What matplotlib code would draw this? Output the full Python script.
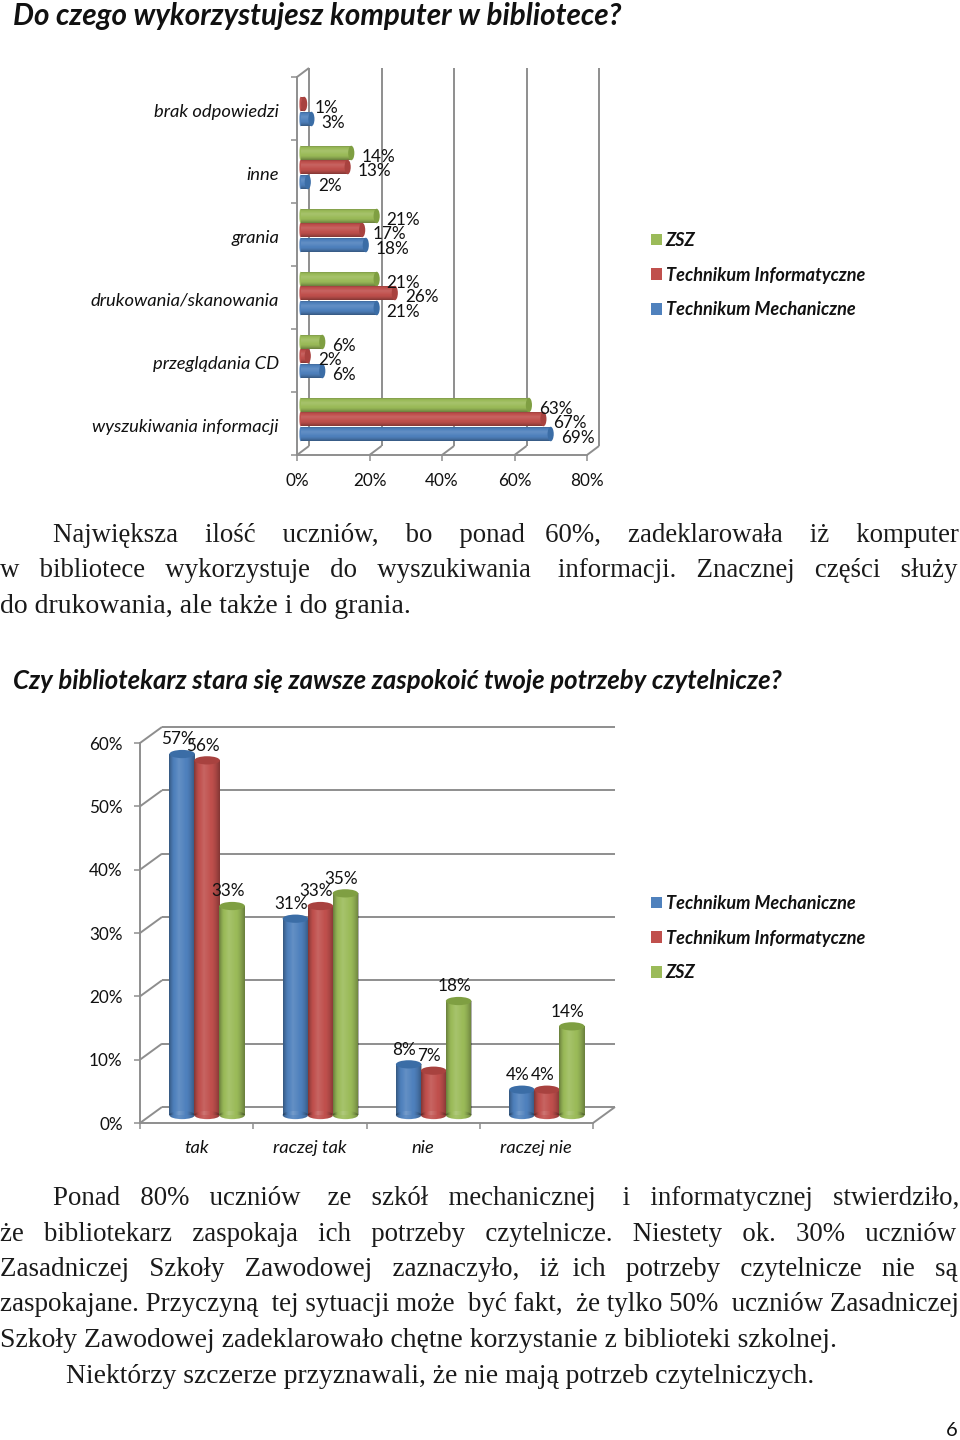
import numpy as np
import matplotlib
matplotlib.use("Agg")
import matplotlib.pyplot as plt
from matplotlib.patches import Ellipse, Patch

# ---------- data ----------
cats_h = ["brak odpowiedzi", "inne", "grania", "drukowania/skanowania",
          "przeglądania CD", "wyszukiwania informacji"]
h_mech = [3, 2, 18, 21, 6, 69]
h_inf = [1, 13, 17, 26, 2, 67]
h_zsz = [None, 14, 21, 21, 6, 63]
h_ticks = [0, 20, 40, 60, 80]

cats_v = ["tak", "raczej tak", "nie", "raczej nie"]
v_mech = [57, 31, 8, 4]
v_inf = [56, 33, 7, 4]
v_zsz = [33, 35, 18, 14]
v_ticks = [0, 10, 20, 30, 40, 50, 60]

name_mech = "Technikum Mechaniczne"
name_inf = "Technikum Informatyczne"
name_zsz = "ZSZ"

title1 = "Do czego wykorzystujesz komputer w bibliotece?"
title2 = "Czy bibliotekarz stara się zawsze zaspokoić twoje potrzeby czytelnicze?"
para_lines = [
    ("Największa ilość uczniów, bo ponad 60%, zadeklarowała iż komputer", 53, 956, 533, True),
    ("w bibliotece wykorzystuje do wyszukiwania informacji. Znacznej części służy", 0, 956, 568, True),
    ("do drukowania, ale także i do grania.", 0, 409, 604, False),
    ("Ponad 80% uczniów ze szkół mechanicznej i informatycznej stwierdziło,", 53, 956, 1196, True),
    ("że bibliotekarz zaspokaja ich potrzeby czytelnicze. Niestety ok. 30% uczniów", 0, 956, 1232, True),
    ("Zasadniczej Szkoły Zawodowej zaznaczyło, iż ich potrzeby czytelnicze nie są", 0, 956, 1267, True),
    ("zaspokajane. Przyczyną tej sytuacji może być fakt, że tylko 50% uczniów Zasadniczej", 0, 956, 1302, True),
    ("Szkoły Zawodowej zadeklarowało chętne korzystanie z biblioteki szkolnej.", 0, 834, 1338, False),
    ("Niektórzy szczerze przyznawali, że nie mają potrzeb czytelniczych.", 66, 812, 1374, False),
]

# ---------- style ----------
W, H = 960, 1440
C_BLUE, C_RED, C_GREEN = "#4f81bd", "#c0504d", "#9bbb59"
CAP = {C_BLUE: "#3b6da6", C_RED: "#a8423f", C_GREEN: "#7f9f42"}
GRID = "#8e8e8e"
SANS = "Lato"
LABEL_PT = 12.3
CAT_PT = 13.2
plt.rcParams["font.family"] = [SANS, "DejaVu Sans"]

fig = plt.figure(figsize=(W / 100, H / 100), dpi=100, facecolor="white")


def make_axes(l, t, r, b):
    return fig.add_axes([l / W, 1 - b / H, (r - l) / W, (b - t) / H])


def shade(n=48):
    s = np.linspace(0, 1, n)
    rgba = np.zeros((n, 1, 4))
    peak = 0.38
    d = np.abs(s - peak) / np.where(s < peak, peak, 1 - peak)
    dark = np.clip(d - 0.45, 0, None) / 0.55
    rgba[:, 0, 3] = np.where(d < 0.45, 0.12 * (1 - d / 0.45), 0.32 * dark ** 1.5)
    white = d < 0.45
    rgba[white, 0, :3] = 1.0
    return rgba


SH = shade()


def hbar(ax, y, v, h, left, capw, color, z):
    ax.add_patch(Ellipse((left, y), 0.6, h, fc=color, ec="none", zorder=z))
    bar = ax.barh(y, v, height=h, left=left, color=color, zorder=z)[0]
    im = ax.imshow(SH, extent=[left, left + v, y + h / 2, y - h / 2], aspect="auto", zorder=z + 0.1,
                   origin="upper")
    im.set_clip_path(bar)
    ax.add_patch(Ellipse((left + v, y), capw, h, fc=CAP[color], ec="none", zorder=z + 0.2))


def vbar(ax, x, v, w, base, caph, color, z):
    baseell = Ellipse((x, base), w, caph, fc=color, ec="none", zorder=z)
    ax.add_patch(baseell)
    bar = ax.bar(x, v, width=w, bottom=base, color=color, zorder=z)[0]
    arr = np.transpose(SH, (1, 0, 2))
    for patch in (bar, baseell):
        ext = [x - w / 2, x + w / 2, base - caph, base + v]
        im = ax.imshow(arr, extent=ext, aspect="auto", zorder=z + 0.1)
        im.set_clip_path(patch)
    ax.add_patch(Ellipse((x, base + v), w, caph, fc=CAP[color], ec="none", zorder=z + 0.2))


# ---------- chart 1 ----------
ax = make_axes(297, 77, 587, 455)
dx1, dy1 = 12 / 3.625, -9 / 63
grid_kw = dict(color=GRID, lw=1.4, zorder=1, solid_capstyle="butt", clip_on=False)
for t in h_ticks:
    ax.plot([t + dx1, t + dx1], [0 + dy1, 6 + dy1], **grid_kw)
    ax.plot([t, t + dx1], [6, 6 + dy1], **grid_kw)
ax.plot([0, dx1], [0, dy1], **grid_kw)

n = len(cats_h)
offs = {"m": 15 / 63, "i": 0.0, "z": -14 / 63}
for i in range(n):
    yc = i + 0.5 - 4.5 / 63
    for vals, key, col in ((h_mech, "m", C_BLUE), (h_inf, "i", C_RED), (h_zsz, "z", C_GREEN)):
        v = vals[i]
        if v is None:
            continue
        y = yc + offs[key]
        z = 3 + {"z": 0, "i": 1, "m": 2}[key]
        hbar(ax, y, v, 14.5 / 63, 0.97, 1.7, col, z)
        ax.annotate(f"{v}%", (0.97 + v, y), xytext=(7.2, -2.6), textcoords="offset points",
                    ha="left", va="center", fontsize=LABEL_PT, color="#111111", zorder=10)

ax.set_xlim(0, 80)
ax.set_ylim(6, 0)
ax.set_facecolor("none")
for s in ("top", "right"):
    ax.spines[s].set_visible(False)
for s in ("left", "bottom"):
    ax.spines[s].set_color(GRID)
    ax.spines[s].set_linewidth(1.4)
ax.set_xticks(h_ticks)
ax.set_xticklabels([f"{t}%" for t in h_ticks], fontsize=LABEL_PT, color="#111111")
ax.set_yticks(range(n + 1))
ax.set_yticklabels([""] * (n + 1))
ax.set_yticks(np.arange(n) + 0.53, minor=True)
ax.set_yticklabels(cats_h, minor=True, fontsize=CAT_PT, style="italic", color="#111111")
ax.tick_params(axis="both", which="major", length=4.5, width=1.1, color=GRID, pad=8.5)
ax.tick_params(axis="y", which="minor", length=0, pad=13)

# ---------- chart 2 ----------
ax2 = make_axes(140, 743, 593, 1123)
dx2, dy2 = 22 / 113.3, 16 / 6.33
for t in v_ticks:
    ax2.plot([0, dx2], [t, t + dy2], **grid_kw)
    ax2.plot([dx2, 4 + dx2], [t + dy2, t + dy2], **grid_kw)
ax2.plot([4, 4 + dx2], [0, dy2], **grid_kw)

base = 1.26
bw = 25.5 / 113.3
for i in range(len(cats_v)):
    xc = i + 0.5 + 10.5 / 113.3
    for j, (vals, col) in enumerate(((v_mech, C_BLUE), (v_inf, C_RED), (v_zsz, C_GREEN))):
        x = xc + (j - 1) * 25 / 113.3
        v = vals[i]
        vbar(ax2, x, v, bw, base, 1.3, col, 3 + j)
        ax2.annotate(f"{v}%", (x, base + v), xytext=(-3.2, 10.6), textcoords="offset points",
                     ha="center", va="center", fontsize=LABEL_PT, color="#111111", zorder=10)

ax2.set_xlim(0, 4)
ax2.set_ylim(0, 60)
ax2.set_facecolor("none")
for s in ("top", "right"):
    ax2.spines[s].set_visible(False)
for s in ("left", "bottom"):
    ax2.spines[s].set_color(GRID)
    ax2.spines[s].set_linewidth(1.4)
ax2.set_yticks(v_ticks)
ax2.set_yticklabels([f"{t}%" for t in v_ticks], fontsize=LABEL_PT, color="#111111")
ax2.set_xticks(range(5))
ax2.set_xticklabels([""] * 5)
ax2.set_xticks(np.arange(4) + 0.5, minor=True)
ax2.set_xticklabels(cats_v, minor=True, fontsize=CAT_PT, style="italic", color="#111111")
ax2.tick_params(axis="both", which="major", length=4.5, width=1.1, color=GRID)
ax2.tick_params(axis="y", which="major", pad=8)
ax2.tick_params(axis="x", which="minor", length=0, pad=12.5)

# ---------- legends ----------
LEG_PT = 13.1


def legend(labels, colors, x, ytop):
    handles = [Patch(fc=c, ec="none") for c in colors]
    fig.legend(handles, labels, loc="upper left", bbox_to_anchor=(x / W, 1 - ytop / H),
               frameon=False, borderpad=0, borderaxespad=0, handlelength=0.6, handleheight=0.6,
               handletextpad=0.2, labelspacing=0.97,
               prop={"family": SANS, "size": LEG_PT, "weight": "bold", "style": "italic"},
               labelcolor="#111111")


legend([name_zsz, name_inf, name_mech], [C_GREEN, C_RED, C_BLUE], 651, 232)
legend([name_mech, name_inf, name_zsz], [C_BLUE, C_RED, C_GREEN], 651, 895)

# ---------- text ----------
fig.canvas.draw()
rend = fig.canvas.get_renderer()


def fit_text(s, x0, x1, y, size, **kw):
    t = fig.text(x0 / W, 1 - y / H, s, ha="left", va="center", fontsize=size, **kw)
    w = t.get_window_extent(rend).width
    t.set_fontsize(size * (x1 - x0) / w)
    return t


SERIF = "Liberation Serif"
BASE_PT = 19.4


def body_line(s, x0, x1, y, just):
    t = fig.text(x0 / W, 1 - (y + 2.5) / H, s, ha="left", va="center", fontsize=BASE_PT,
                 family=SERIF, color="#1a1a1a")
    if just:
        wn = t.get_window_extent(rend).width
        t2 = fig.text(0, 0, "a a", fontsize=BASE_PT, family=SERIF)
        t3 = fig.text(0, 0, "aa", fontsize=BASE_PT, family=SERIF)
        sp = t2.get_window_extent(rend).width - t3.get_window_extent(rend).width
        t2.remove()
        t3.remove()
        words = s.split(" ")
        gaps = len(words) - 1
        extra = max(0, round((x1 - x0 - wn) / sp))
        out = words[0]
        acc = 0
        for g in range(gaps):
            want = round((g + 1) * extra / gaps)
            out += " " * (1 + want - acc) + words[g + 1]
            acc = want
        t.set_text(out)
    w = t.get_window_extent(rend).width
    t.set_fontsize(BASE_PT * (x1 - x0) / w)


fit_text(title1, 13, 621, 16, 20, family=SANS, weight="bold", style="italic", color="#111111")
fit_text(title2, 13, 784, 681, 17, family=SANS, weight="bold", style="italic", color="#111111")
for line in para_lines:
    body_line(*line)
fig.text(952 / W, 1 - 1430 / H, "6", ha="center", va="center", fontsize=14.5, family=SANS, color="#111111")

fig.savefig("out.png", dpi=100, facecolor="white")
